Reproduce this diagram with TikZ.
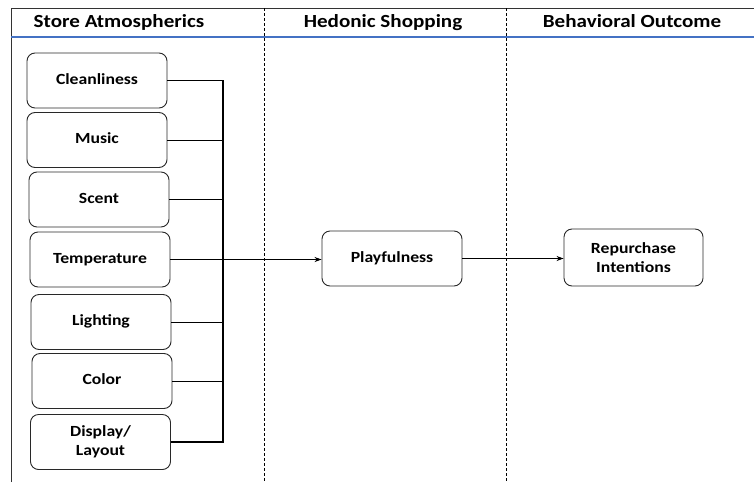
\documentclass[tikz,border=0pt]{standalone}
\usepackage{fontspec}
\setmainfont{Carlito}[FakeStretch=1.14]
\usetikzlibrary{arrows.meta}
\definecolor{hdrblue}{RGB}{68,114,196}
\definecolor{boxline}{RGB}{40,40,40}
\tikzset{
  factor/.style={draw=boxline, line width=0.9pt, rounded corners=8pt, minimum width=140pt, minimum height=55pt, align=center, font=\fontsize{15.5}{19}\selectfont\bfseries, inner sep=0pt},
  header/.style={font=\fontsize{18.5}{22}\selectfont\bfseries, anchor=base},
  conn/.style={line width=0.9pt, black},
  bus/.style={line width=1.6pt, black},
  arr/.style={line width=0.9pt, black, -{Stealth[length=7pt,width=5pt]}},
  sep/.style={line width=0.7pt, black, dash pattern=on 3pt off 2pt},
  frame/.style={line width=0.8pt, black!80}
}
\begin{document}
\begin{tikzpicture}[x=1pt,y=-1pt]
\useasboundingbox (0,0) rectangle (754,482);
% frame
\draw[frame] (11,482) -- (11,8) -- (754,8);
\draw[hdrblue, line width=1.2pt] (11,37) -- (754,37);
\draw[sep] (264,8) -- (264,482);
\draw[sep] (506,8) -- (506,482);
% headers
\node[header] (h1) at (119,27) {Store Atmospherics};
\node[header] (h2) at (383,27) {Hedonic Shopping};
\node[header] (h3) at (632,27) {Behavioral Outcome};
% factor boxes
\node[factor] (clean) at (97,80.5) {\raisebox{3pt}{Cleanliness}};
\node[factor] (music) at (97,140) {\raisebox{3pt}{Music}};
\node[factor] (scent) at (99,199.5) {\raisebox{3pt}{Scent}};
\node[factor] (temp) at (100,259.5) {\raisebox{3pt}{Temperature}};
\node[factor] (light) at (101,322) {\raisebox{3pt}{Lighting}};
\node[factor] (color) at (102,381) {\raisebox{3pt}{Color}};
\node[factor] (disp) at (100.5,442) {Display/\\Layout};
\node[factor] (play) at (392,258.5) {\raisebox{3pt}{Playfulness}};
\node[factor, minimum width=139pt, minimum height=57pt] (rep) at (633.5,257.5) {Repurchase\\Intentions};
% bus
\coordinate (busx) at (223,0);
\draw[bus] (clean.east) -- (clean.east -| busx) -- (disp.east -| busx) -- (disp.east);
\draw[conn] (music.east) -- (music.east -| busx);
\draw[conn] (scent.east) -- (scent.east -| busx);
\draw[conn] (light.east) -- (light.east -| busx);
\draw[conn] (color.east) -- (color.east -| busx);
% arrows
\draw[arr] (temp.east) -- (play.west |- temp.east);
\draw[arr] (play.east) -- (rep.west |- play.east);
\end{tikzpicture}
\end{document}
